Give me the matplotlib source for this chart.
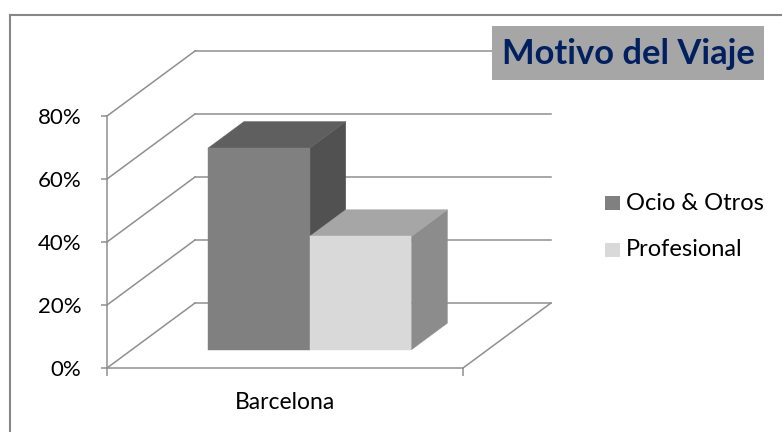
import matplotlib
matplotlib.use("Agg")
import matplotlib.pyplot as plt
from matplotlib.patches import Polygon, Rectangle
from matplotlib.lines import Line2D

plt.rcParams['font.family'] = ['Lato', 'DejaVu Sans']

# ---- data ----
categories = ["Barcelona"]
series_names = ["Ocio & Otros", "Profesional"]
values = [64, 36]               # percent
yticks = [0, 20, 40, 60, 80]
ytick_labels = ["0%", "20%", "40%", "60%", "80%"]
title = "Motivo del Viaje"

# ---- styles ----
front_cols = ["#808080", "#d9d9d9"]
top_cols = ["#5f5f5f", "#a6a6a6"]
side_cols = ["#515151", "#8c8c8c"]
grid_col = "#8f8f8f"
W, H = 782, 432

fig = plt.figure(figsize=(W / 100, H / 100), dpi=100)
# axes frame = front floor edge / front value axis
ax = fig.add_axes([107 / W, (H - 368) / H, 356 / W, 252 / H])
ax.set_xlim(-0.5, 0.5)
ax.set_ylim(0, 80)
ax.patch.set_visible(False)

# oblique depth offset in data units
DX = 88 / 356
DY = 65 / (252 / 80)

lw = 1.1
# back wall gridlines and side wall diagonals
for v in yticks:
    ax.plot([-0.5, -0.5 + DX], [v, v + DY], color=grid_col, lw=lw, clip_on=False, zorder=1)
    ax.plot([-0.5 + DX, 0.5 + DX], [v + DY, v + DY], color=grid_col, lw=lw, clip_on=False, zorder=1)
# floor right edge
ax.plot([0.5, 0.5 + DX], [0, DY], color=grid_col, lw=lw, clip_on=False, zorder=1)

# bars
n = len(values)
gap = 1.5
bw = 1.0 / (n + gap)
x_start = -0.5 + gap * bw / 2
t0, t1 = 0.28, 0.69
for i, v in enumerate(values):
    xl = x_start + i * bw
    xr = xl + bw
    ox0, oy0 = t0 * DX, t0 * DY
    ox1, oy1 = t1 * DX, t1 * DY
    front = [(xl + ox0, oy0), (xr + ox0, oy0), (xr + ox0, v + oy0), (xl + ox0, v + oy0)]
    top = [(xl + ox0, v + oy0), (xr + ox0, v + oy0), (xr + ox1, v + oy1), (xl + ox1, v + oy1)]
    side = [(xr + ox0, oy0), (xr + ox1, oy1), (xr + ox1, v + oy1), (xr + ox0, v + oy0)]
    for pts, c in ((side, side_cols[i]), (top, top_cols[i]), (front, front_cols[i])):
        ax.add_patch(Polygon(pts, closed=True, facecolor=c, edgecolor=c, lw=0.3,
                             clip_on=False, zorder=3 + i))

# spines / ticks
for s in ("top", "right"):
    ax.spines[s].set_visible(False)
for s in ("left", "bottom"):
    ax.spines[s].set_color(grid_col)
    ax.spines[s].set_linewidth(lw)
    ax.spines[s].set_zorder(2)
ax.set_yticks(yticks)
ax.set_yticklabels(ytick_labels, fontsize=16)
ax.tick_params(axis="y", direction="out", length=4.5, width=lw, color=grid_col, pad=14)
ax.set_xticks([-0.5, 0.5])
ax.set_xticklabels(["", ""])
ax.tick_params(axis="x", which="major", direction="out", length=5.5, width=lw, color=grid_col)
ax.set_xticks([0], minor=True)
ax.set_xticklabels(categories, minor=True, fontsize=16.5)
ax.tick_params(axis="x", which="minor", length=0, pad=17)

# legend (manual, to match the reference placement)
leg_y = [203, 250]
for name, c, y in zip(series_names, front_cols, leg_y):
    fig.add_artist(Rectangle((605 / W, 1 - (y + 7) / H), 15 / W, 14 / H,
                             transform=fig.transFigure, facecolor=c, edgecolor="none"))
    fig.text(626 / W, 1 - y / H, name, ha="left", va="center", fontsize=17, color="black")

# title box
fig.add_artist(Rectangle((492 / W, 1 - 80 / H), 272 / W, 54 / H, transform=fig.transFigure,
                         facecolor="#a6a6a6", edgecolor="none", zorder=5))
fig.text(628 / W, 1 - 54 / H, title, ha="center", va="center", fontsize=24.8,
         fontweight="bold", color="#002060", zorder=6)

# chart border
fig.add_artist(Line2D([9.5 / W, 9.5 / W], [0, 1 - 14.5 / H], transform=fig.transFigure,
                      color="#878787", lw=1.5))
fig.add_artist(Line2D([9.5 / W, 1], [1 - 14.5 / H, 1 - 14.5 / H], transform=fig.transFigure,
                      color="#878787", lw=1.5))

fig.savefig("out.png", dpi=100)
